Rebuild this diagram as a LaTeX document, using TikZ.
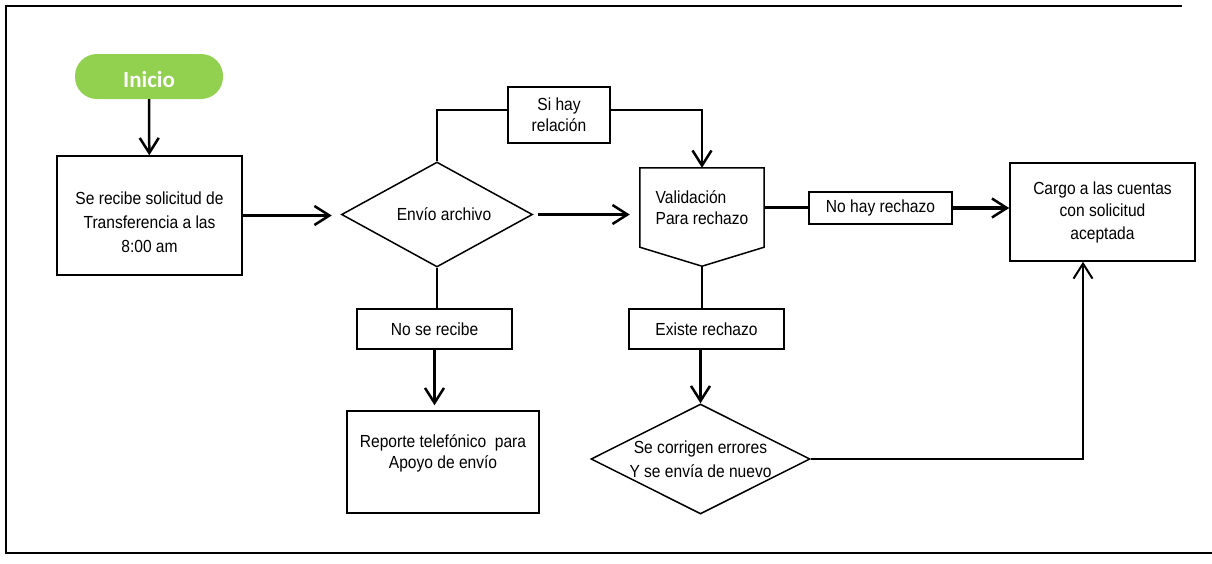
\documentclass[tikz,border=0pt]{standalone}
\usepackage{fontspec}
\setmainfont[FakeStretch=0.89]{Liberation Sans}
\newfontfamily\titulofont{Carlito}
\usetikzlibrary{arrows.meta,shapes.geometric,positioning}
\definecolor{verde}{RGB}{146,208,80}

\begin{document}
\begin{tikzpicture}[x=1pt,y=-1pt,
    font=\fontsize{17.5}{21}\selectfont,
    caja/.style={draw,line width=1.5pt,inner sep=2pt,align=center},
    rombo/.style={draw,diamond,line width=1.5pt,inner sep=0pt,align=center},
    flecha/.style={line width=2.5pt,-{Straight Barb[length=15pt,width=19pt]}},
    linea/.style={line width=2.5pt}]
  \useasboundingbox (0,0) rectangle (1212,563);
  % marco
  \draw[line width=2pt] (1182,6) -- (6,6) -- (6,553) -- (1212,553);

  \node[fill=verde,rounded corners=22pt,minimum width=148pt,minimum height=45pt,
    text height=22pt,text depth=0pt,text=white,
    font=\titulofont\bfseries\fontsize{23}{26}\selectfont] (inicio) at (149,76.5) {Inicio};
  \node[caja,minimum width=185pt,minimum height=119pt,font=\fontsize{17.5}{24}\selectfont]
    (recibe) at (149.5,215.5) {\rule{0pt}{27pt}Se recibe solicitud de\\Transferencia a las\\8:00 am};
  \node[rombo,shape aspect=1.82,minimum width=191pt,minimum height=105pt] (envio) at (437,214.5)
    {\hspace*{14pt}Envío archivo};
  \node[caja,minimum width=102pt,minimum height=56pt] (sihay) at (559,115) {Si hay\\relación};
  \node[minimum width=124pt,minimum height=79pt,align=left] (valida) at (702,207.5)
    {Validación\\Para rechazo};
  \draw[line width=1.5pt] (valida.north west) -- (valida.north east) -- (valida.south east)
    -- ([yshift=-19pt]valida.south) -- (valida.south west) -- cycle;
  \coordinate (punta) at ([yshift=-19pt]valida.south);
  \node[caja,minimum width=143pt,minimum height=32pt] (nohay) at (880.5,208) {No hay rechazo};
  \node[caja,minimum width=185pt,minimum height=98pt,font=\fontsize{17.5}{22.5}\selectfont]
    (cargo) at (1102.5,212) {Cargo a las cuentas\\con solicitud\\aceptada};
  \node[caja,minimum width=155pt,minimum height=40pt] (norecibe) at (434.5,329) {No se recibe};
  \node[caja,minimum width=192pt,minimum height=102pt] (reporte) at (443,462)
    {Reporte telefónico\ \ para\\Apoyo de envío\\\mbox{}};
  \node[caja,minimum width=155pt,minimum height=40pt] (existe) at (706.5,329) {Existe rechazo};
  \node[rombo,shape aspect=2,inner sep=-3pt,minimum width=219pt,minimum height=110pt,
    font=\fontsize{17.5}{24}\selectfont] (corrige) at (700.5,459)
    {Se corrigen errores\\Y se envía de nuevo};

  \draw[flecha] (inicio) -- (recibe);
  \draw[flecha,shorten >=9pt] (recibe.east) -- (recibe.east -| envio.west);
  \draw[flecha,shorten <=5pt,shorten >=10pt] (envio.east) -- (envio.east -| valida.west);
  \draw[linea] (envio.north) |- ([yshift=5pt]sihay.west);
  \draw[flecha] ([yshift=5pt]sihay.east) -| (valida.north);
  \draw[linea] (valida.east) -- (valida.east -| nohay.west);
  \draw[line width=4pt,-{Straight Barb[length=15pt,width=19pt,line width=2.5pt]}]
    (nohay.east) -- (nohay.east -| cargo.west);
  \draw[linea] (envio.south) -- (envio.south |- norecibe.north);
  \draw[flecha,shorten >=5pt] (norecibe.south) -- (norecibe.south |- reporte.north);
  \draw[linea] (punta) -- (punta |- existe.north);
  \draw[flecha] (existe.south -| corrige.north) -- (corrige.north);
  \draw[line width=2pt,-{Straight Barb[length=15pt,width=19pt]}]
    (corrige.east) -| ([xshift=-19.5pt]cargo.south);
\end{tikzpicture}
\end{document}
